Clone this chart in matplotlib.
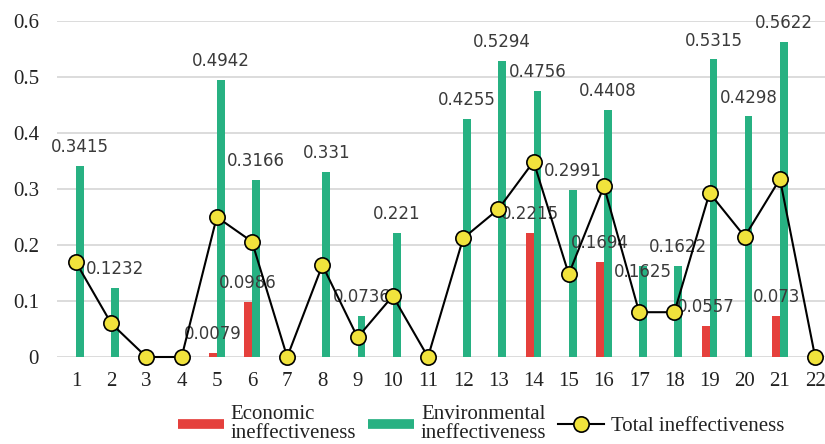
import matplotlib
matplotlib.use("Agg")
import matplotlib.pyplot as plt
from matplotlib.lines import Line2D
import numpy as np

categories = list(range(1, 23))
economic = [0, 0, 0, 0, 0.0079, 0.0986, 0, 0, 0, 0, 0,
            0, 0, 0.2215, 0, 0.1694, 0, 0, 0.0557, 0, 0.073, 0]
environmental = [0.3415, 0.1232, 0, 0, 0.4942, 0.3166, 0, 0.331, 0.0736, 0.221, 0,
                 0.4255, 0.5294, 0.4756, 0.2991, 0.4408, 0.1625, 0.1622, 0.5315, 0.4298, 0.5622, 0]
total = [0.169, 0.060, 0, 0, 0.250, 0.206, 0, 0.164, 0.035, 0.109, 0,
         0.212, 0.264, 0.349, 0.148, 0.305, 0.080, 0.080, 0.293, 0.215, 0.318, 0]
yticks = [0, 0.1, 0.2, 0.3, 0.4, 0.5, 0.6]
ytick_labels = ["0", "0.1", "0.2", "0.3", "0.4", "0.5", "0.6"]
legend_labels = ["Economic\nineffectiveness", "Environmental\nineffectiveness", "Total ineffectiveness"]

RED = "#e5403c"
GREEN = "#27b182"
YELLOW = "#f1e33c"
GRID = "#d6d6d6"
LABEL = "#3a3a3a"
serif = "Liberation Serif"

# vertical offsets (points) of data labels; one environmental label was moved below its bar top
env_label_dy = {17: -4.3}

fig = plt.figure(figsize=(8.25, 4.44), dpi=100)
ax = fig.add_axes([57/825, 1-357/444, 1-57/825, (357-21)/444])

x = np.array(categories, dtype=float)
w = 0.22
ax.bar(x - w/2, economic, width=w, color=RED, zorder=2)
ax.bar(x + w/2, environmental, width=w, color=GREEN, zorder=2)

for xi, v in zip(x, economic):
    if v > 0:
        ax.annotate(f"{v:g}", (xi - w/2, v), xytext=(0, 13.5), textcoords="offset points",
                    ha="center", va="center", fontsize=12, color=LABEL,
                    family="DejaVu Sans", zorder=3, annotation_clip=False)
for c, xi, v in zip(categories, x, environmental):
    if v > 0:
        dy = env_label_dy.get(c, 13.5)
        ax.annotate(f"{v:g}", (xi + w/2, v), xytext=(0, dy), textcoords="offset points",
                    ha="center", va="center", fontsize=12, color=LABEL,
                    family="DejaVu Sans", zorder=3, annotation_clip=False)

ax.plot(x, total, color="black", lw=1.5, zorder=4, clip_on=False)
ax.plot(x, total, ls="none", marker="o", markersize=11, markerfacecolor=YELLOW,
        markeredgecolor="black", markeredgewidth=1.2, zorder=5, clip_on=False)

ax.set_xlim(0.46, 22.28)
ax.set_ylim(0, 0.6)
ax.set_yticks(yticks)
ax.set_yticklabels(ytick_labels)
ax.set_xticks(x)
ax.set_xticklabels([str(c) for c in categories])
for lab in ax.get_xticklabels() + ax.get_yticklabels():
    lab.set_family(serif)
    lab.set_fontsize(15)
    lab.set_color("#222222")
ax.tick_params(axis="x", length=0, pad=11)
ax.tick_params(axis="y", length=0, pad=13)
ax.grid(axis="y", color=GRID, lw=1.2, zorder=0)
ax.set_axisbelow(True)
for s in ax.spines.values():
    s.set_visible(False)

handles = [
    Line2D([0], [0], color=RED, lw=7, solid_capstyle="butt"),
    Line2D([0], [0], color=GREEN, lw=7, solid_capstyle="butt"),
    Line2D([0], [0], color="black", lw=1.5, marker="o", markersize=11,
           markerfacecolor=YELLOW, markeredgecolor="black", markeredgewidth=1.2),
]
leg = fig.legend(handles, legend_labels, loc="center", ncol=3,
                 bbox_to_anchor=(481/825, 1-424/444), frameon=False,
                 prop={"family": serif, "size": 15}, handlelength=2.2,
                 handletextpad=0.35, columnspacing=0.55, borderpad=0, borderaxespad=0)
for t in leg.get_texts():
    t.set_linespacing(0.95)
    t.set_color("#222222")

fig.savefig("out.png", dpi=100)
